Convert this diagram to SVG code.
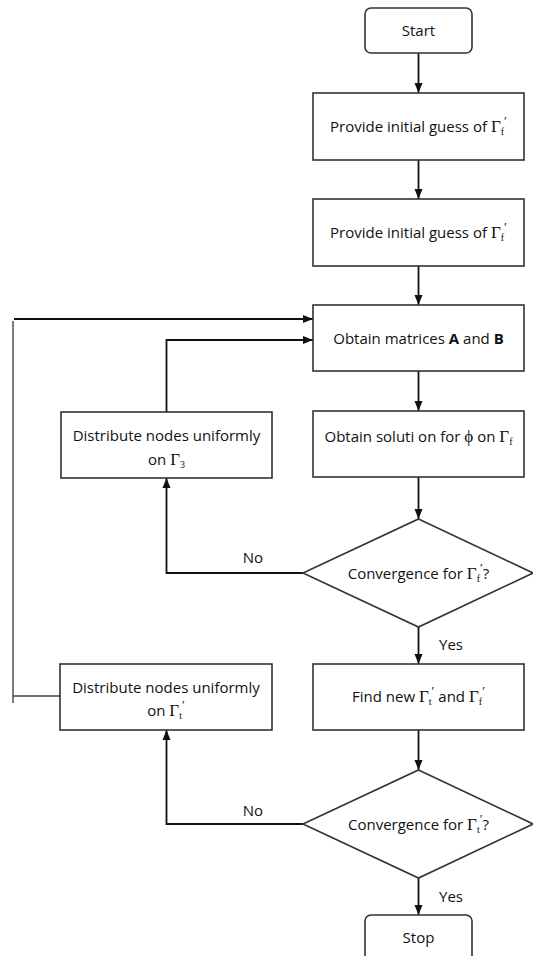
<svg xmlns="http://www.w3.org/2000/svg" width="533" height="956" viewBox="0 0 533 956">
<style>
.box{fill:#fff;stroke:#333;stroke-width:1.6}
.t{font-family:"Open Sans","Liberation Sans",sans-serif;font-size:15px;fill:#111;text-anchor:middle}
.g{font-family:"Liberation Serif",serif;font-size:17px}
.s{font-family:"Liberation Serif",serif;font-size:10px}
.p{font-family:"Liberation Serif",serif;font-size:13px}
.c{fill:none;stroke:#111;stroke-width:1.8}
.l{fill:none;stroke:#444;stroke-width:1.4}
</style>
<defs>
<marker id="ah" markerWidth="10" markerHeight="10" refX="10" refY="5" orient="auto" markerUnits="userSpaceOnUse">
<path d="M0,1 L10,5 L0,9 Z" fill="#111"/>
</marker>
</defs>
<g id="connectors">
<line class="c" x1="418.5" y1="53" x2="418.5" y2="93" marker-end="url(#ah)"/>
<line class="c" x1="418.5" y1="160" x2="418.5" y2="199" marker-end="url(#ah)"/>
<line class="c" x1="418.5" y1="266" x2="418.5" y2="305" marker-end="url(#ah)"/>
<line class="c" x1="418.5" y1="371" x2="418.5" y2="411" marker-end="url(#ah)"/>
<line class="c" x1="418.5" y1="477" x2="418.5" y2="519" marker-end="url(#ah)"/>
<line class="c" x1="418.5" y1="627" x2="418.5" y2="664" marker-end="url(#ah)"/>
<line class="c" x1="418.5" y1="730" x2="418.5" y2="770" marker-end="url(#ah)"/>
<line class="c" x1="418.5" y1="878" x2="418.5" y2="915" marker-end="url(#ah)"/>
<polyline class="c" points="303,573 166.5,573 166.5,478" marker-end="url(#ah)"/>
<polyline class="c" points="303,824 166.5,824 166.5,730" marker-end="url(#ah)"/>
<polyline class="c" points="166.5,412 166.5,340 313,340" marker-end="url(#ah)"/>
<line class="c" x1="14" y1="319" x2="313" y2="319" marker-end="url(#ah)"/>
<line class="l" x1="13" y1="321" x2="13" y2="703"/>
<line class="l" x1="13" y1="696" x2="60" y2="696"/>
<text class="t" x="253" y="563">No</text>
<text class="t" x="253" y="816">No</text>
<text class="t" x="451" y="650">Yes</text>
<text class="t" x="451" y="902">Yes</text>
</g>
<g id="start">
<rect class="box" x="365" y="8" width="107" height="45" rx="6"/>
<text class="t" x="418.5" y="36">Start</text>
</g>
<g id="guess1">
<rect class="box" x="313" y="93" width="211" height="67"/>
<text class="t" x="418.5" y="132">Provide initial guess of <tspan class="g">Γ</tspan><tspan class="s" dy="3">f</tspan><tspan class="p" dy="-10">′</tspan></text>
</g>
<g id="guess2">
<rect class="box" x="313" y="199" width="211" height="67"/>
<text class="t" x="418.5" y="238">Provide initial guess of <tspan class="g">Γ</tspan><tspan class="s" dy="3">f</tspan><tspan class="p" dy="-10">′</tspan></text>
</g>
<g id="matrices">
<rect class="box" x="313" y="305" width="211" height="66"/>
<text class="t" x="418.5" y="344">Obtain matrices <tspan font-weight="bold">A</tspan> and <tspan font-weight="bold">B</tspan></text>
</g>
<g id="solution">
<rect class="box" x="313" y="411" width="211" height="66"/>
<text class="t" x="418.5" y="442">Obtain soluti on for <tspan class="g">ϕ</tspan> on <tspan class="g">Γ</tspan><tspan class="s" dy="3">f</tspan></text>
</g>
<g id="dist1">
<rect class="box" x="61" y="412" width="211" height="66"/>
<text class="t" x="166.5" y="441">Distribute nodes uniformly</text>
<text class="t" x="166.5" y="465">on <tspan class="g">Γ</tspan><tspan class="s" dy="3">3</tspan></text>
</g>
<g id="conv1">
<polygon class="box" points="418.5,519 533,573 418.5,627 303,573"/>
<text class="t" x="418.5" y="579">Convergence for <tspan class="g">Γ</tspan><tspan class="s" dy="3">f</tspan><tspan class="p" dy="-10">′</tspan><tspan dy="7">?</tspan></text>
</g>
<g id="findnew">
<rect class="box" x="313" y="664" width="211" height="66"/>
<text class="t" x="418.5" y="702">Find new <tspan class="g">Γ</tspan><tspan class="s" dy="3">t</tspan><tspan class="p" dy="-10">′</tspan><tspan dy="7"> and </tspan><tspan class="g">Γ</tspan><tspan class="s" dy="3">f</tspan><tspan class="p" dy="-10">′</tspan></text>
</g>
<g id="dist2">
<rect class="box" x="60" y="664" width="212" height="66"/>
<text class="t" x="166" y="693">Distribute nodes uniformly</text>
<text class="t" x="166" y="716">on <tspan class="g">Γ</tspan><tspan class="s" dy="3">t</tspan><tspan class="p" dy="-10">′</tspan></text>
</g>
<g id="conv2">
<polygon class="box" points="418.5,770 533,824 418.5,878 303,824"/>
<text class="t" x="418.5" y="830">Convergence for <tspan class="g">Γ</tspan><tspan class="s" dy="3">t</tspan><tspan class="p" dy="-10">′</tspan><tspan dy="7">?</tspan></text>
</g>
<g id="stop">
<rect class="box" x="365" y="915" width="107" height="50" rx="6"/>
<text class="t" x="418.5" y="943">Stop</text>
</g>
</svg>
